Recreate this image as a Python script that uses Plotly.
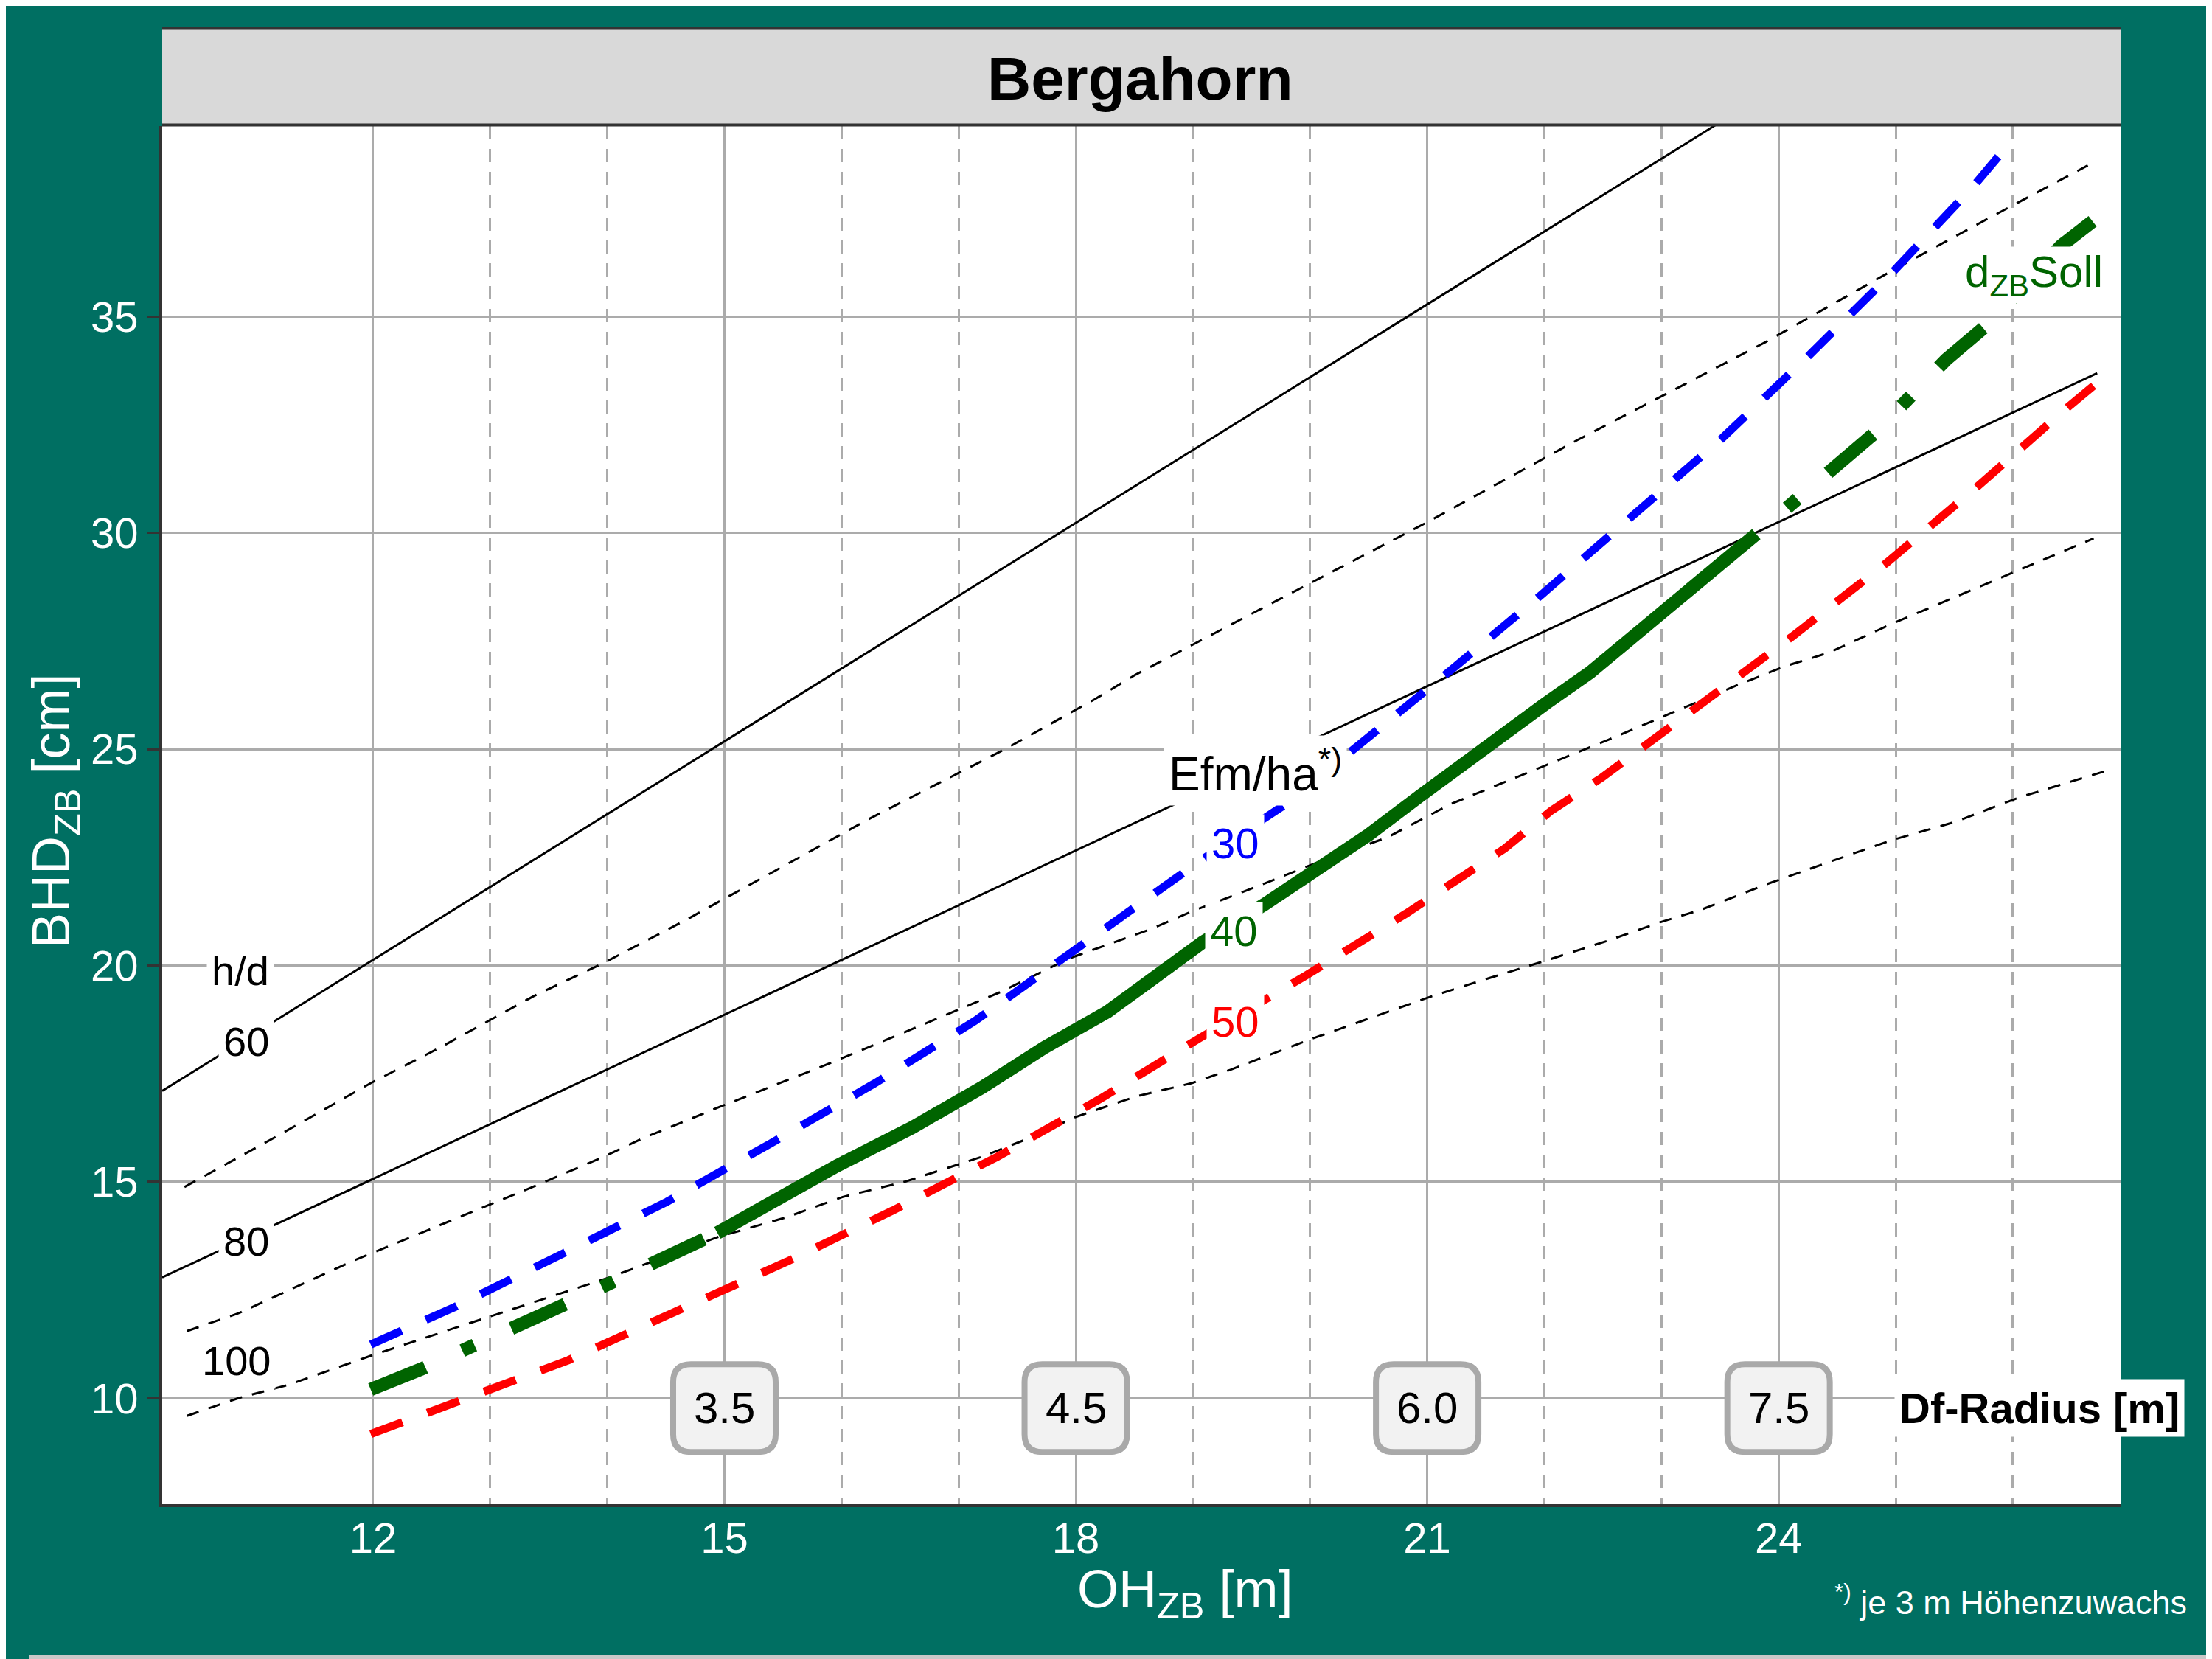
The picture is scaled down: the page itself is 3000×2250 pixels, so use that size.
import plotly.graph_objects as go

# ---------------- data ----------------
x_major_ticks = [12, 15, 18, 21, 24]
x_minor_grid = [13, 14, 16, 17, 19, 20, 22, 23, 25, 26]
y_ticks = [10, 15, 20, 25, 30, 35]

# h/d reference lines (solid black)
hd60_x = [10.2, 23.46]
hd60_y = [17.1, 39.42]
hd80_x = [10.2, 26.72]
hd80_y = [12.79, 33.69]

# thin black dashed lines
l1_x = [10.39, 11.17, 11.98, 12.57, 13.37, 13.97, 14.67, 16.01, 16.23, 17.41, 18.16, 18.51, 19.53,
        20.99, 22.28, 23.09, 23.89, 24.97, 25.78, 26.64]
l1_y = [14.88, 16.04, 17.28, 18.10, 19.29, 20.06, 21.05, 23.06, 23.38, 25.02, 26.15, 26.72, 28.17,
        30.23, 32.14, 33.28, 34.41, 36.06, 37.25, 38.49]
l2_x = [10.41, 10.85, 11.81, 12.41, 13.38, 13.97, 14.29, 14.94, 15.91, 16.55, 17.36, 17.95, 18.64,
        18.99, 19.59, 20.07, 20.66, 21.2, 22.55, 23.09, 23.63, 24.06, 24.43, 24.97, 25.51, 26.05, 26.69]
l2_y = [11.55, 11.96, 13.15, 13.82, 14.90, 15.58, 15.99, 16.71, 17.75, 18.47, 19.39, 20.17, 20.84,
        21.25, 21.87, 22.39, 22.96, 23.73, 25.22, 25.84, 26.46, 26.92, 27.23, 27.90, 28.52, 29.14, 29.87]
l3_x = [10.41, 10.85, 11.28, 11.98, 12.73, 13.43, 14.02, 14.94, 15.53, 16.01, 16.55, 17.20, 17.63,
        18.0, 18.51, 18.99, 19.32, 20.02, 20.66, 21.04, 21.52, 22.01, 22.55, 22.98, 23.35, 23.89,
        24.43, 24.97, 25.51, 26.05, 26.80]
l3_y = [9.59, 10.0, 10.31, 10.98, 11.65, 12.27, 12.79, 13.72, 14.18, 14.65, 15.01, 15.58, 16.04,
        16.5, 16.97, 17.28, 17.59, 18.31, 18.93, 19.29, 19.70, 20.11, 20.58, 20.99, 21.30, 21.87,
        22.39, 22.90, 23.32, 23.88, 24.5]

# Efm/ha = 30 (blue)
e30_x = [11.98, 12.70, 13.59, 14.51, 15.39, 16.28, 17.14, 17.95, 18.64, 19.08, 19.81, 20.58, 21.20,
         21.98, 22.76, 23.52, 24.26, 24.97, 25.67, 25.94]
e30_y = [11.24, 12.11, 13.30, 14.54, 15.88, 17.27, 18.72, 20.27, 21.61, 22.45, 23.76, 25.43, 26.82,
         28.58, 30.39, 32.19, 34.10, 36.01, 38.03, 38.90]
# Efm/ha = 50 (red)
e50_x = [11.98, 12.73, 13.67, 14.59, 15.53, 16.44, 17.33, 18.21, 18.64, 19.05, 19.96, 20.82, 21.66,
         22.06, 22.49, 23.32, 24.11, 24.92, 25.69, 26.45, 26.82]
e50_y = [9.17, 9.95, 10.88, 12.01, 13.15, 14.34, 15.58, 16.92, 17.64, 18.31, 19.76, 21.20, 22.70,
         23.58, 24.34, 26.0, 27.59, 29.30, 31.05, 32.86, 33.69]
# Efm/ha = 40 (green, d_ZB Soll)
e40a_x = [11.98, 12.41, 13.64, 14.75, 14.94]
e40a_y = [10.20, 10.67, 12.17, 13.61, 13.82]
e40b_x = [14.94, 15.47, 15.96, 16.60, 17.20, 17.73, 18.27, 18.64, 19.08, 19.61, 20.07, 20.50, 20.94,
          21.37, 21.69, 22.01, 22.39, 22.76, 22.98, 23.25, 23.57, 23.81]
e40b_y = [13.82, 14.65, 15.37, 16.25, 17.18, 18.10, 18.93, 19.66, 20.53, 21.41, 22.24, 23.02, 23.92,
          24.81, 25.43, 26.05, 26.77, 27.60, 28.11, 28.63, 29.35, 29.97]
e40c_x = [23.81, 24.47, 24.84, 25.43, 25.81, 26.41, 26.78]
e40c_y = [29.97, 31.52, 32.35, 34.0, 34.87, 36.63, 37.41]

# Df-Radius boxes
df_x = [15, 18, 21, 24]
df_y = [9.77, 9.77, 9.77, 9.77]
df_labels = ["3.5", "4.5", "6.0", "7.5"]

# h/d labels
hd_lab_text = ["h/d", "60", "80", "100"]
hd_lab_x = [10.87, 10.92, 10.92, 10.83]
hd_lab_y = [19.88, 18.25, 13.63, 10.87]

# Efm labels
efm_text = ["30", "40", "50"]
efm_x = [19.36, 19.35, 19.36]
efm_y = [22.83, 20.80, 18.71]

# ---------------- styling ----------------
TEAL = "#006F62"
GRID = "#ABABAB"
AXIS = "#333333"
FONT = "Liberation Sans, Arial, sans-serif"
BLUE = "#0000FF"
RED = "#FF0000"
GREEN = "#006400"

OFF = 8  # page body margin
W, H = 3000 - OFF, 2250 - OFF
ML, MT = 220 - OFF, 171 - OFF
MR = W - (2876 - OFF)
MB = H - (2040 - OFF)
PW, PH = W - ML - MR, H - MT - MB


def px_x(X):
    return (X - OFF - ML) / PW


def px_y(Y):
    return (H - MB - (Y - OFF)) / PH


fig = go.Figure()


def add_line(x, y, color, width, dash):
    fig.add_trace(go.Scatter(x=x, y=y, mode="lines",
                             line=dict(color=color, width=width, dash=dash),
                             hoverinfo="skip", showlegend=False))


thin_dash = "17px,14px"
add_line(l1_x, l1_y, "black", 3, thin_dash)
add_line(l2_x, l2_y, "black", 3, thin_dash)
add_line(l3_x, l3_y, "black", 3, thin_dash)
add_line(hd60_x, hd60_y, "black", 3, "solid")
add_line(hd80_x, hd80_y, "black", 3, "solid")
add_line(e50_x, e50_y, RED, 11, "46px,36px")
add_line(e30_x, e30_y, BLUE, 11, "46px,36px")
add_line(e40a_x, e40a_y, GREEN, 18, "80px,55px,18px,55px")
add_line(e40b_x, e40b_y, GREEN, 18, "solid")
add_line(e40c_x, e40c_y, GREEN, 18, "0px,55px,18px,55px,80px,0px")

shapes = []
# grey strip at the very bottom
shapes.append(dict(type="rect", xref="paper", yref="paper", x0=px_x(40), x1=px_x(3000),
                   y0=px_y(2250), y1=px_y(2245),
                   fillcolor="#C8C8C8", line=dict(width=0), layer="above"))
# title strip
shapes.append(dict(type="rect", xref="paper", yref="paper", x0=0, x1=1, y0=1.0, y1=px_y(38),
                   fillcolor="#D9D9D9", line=dict(width=0), layer="above"))
for Yl in (38.5, 169.5):
    shapes.append(dict(type="line", xref="paper", yref="paper", x0=0, x1=1, y0=px_y(Yl), y1=px_y(Yl),
                       line=dict(color=AXIS, width=4), layer="above"))

# rounded Df-Radius boxes (pixel sized, anchored at data points)
bw, bh, br = 69.5, 59.5, 24


def rounded_path(w, h, r):
    return (f"M {-w + r},{-h} L {w - r},{-h} Q {w},{-h} {w},{-h + r} L {w},{h - r} "
            f"Q {w},{h} {w - r},{h} L {-w + r},{h} Q {-w},{h} {-w},{h - r} "
            f"L {-w},{-h + r} Q {-w},{-h} {-w + r},{-h} Z")


for xv, yv in zip(df_x, df_y):
    shapes.append(dict(type="path", xref="x", yref="y", xsizemode="pixel", ysizemode="pixel",
                       xanchor=xv, yanchor=yv, path=rounded_path(bw, bh, br),
                       fillcolor="#F2F2F2", line=dict(color="#A9A9A9", width=8), layer="above"))

annotations = []
# title
annotations.append(dict(text="<b>Bergahorn</b>", xref="paper", yref="paper", x=px_x(1546), y=px_y(106),
                        showarrow=False, font=dict(family=FONT, size=82, color="black"),
                        xanchor="center", yanchor="middle"))
# axis titles
annotations.append(dict(text="OH<sub>ZB</sub> [m]", xref="paper", yref="paper", x=px_x(1607), y=px_y(2160),
                        showarrow=False, font=dict(family=FONT, size=72, color="white"),
                        xanchor="center", yanchor="middle"))
annotations.append(dict(text="BHD<sub>ZB</sub> [cm]", xref="paper", yref="paper", x=px_x(74), y=px_y(1100),
                        showarrow=False, textangle=-90, font=dict(family=FONT, size=72, color="white"),
                        xanchor="center", yanchor="middle"))
# footnote
annotations.append(dict(text="<sup>*)</sup> je 3 m Höhenzuwachs", xref="paper", yref="paper",
                        x=px_x(2968), y=px_y(2170), showarrow=False,
                        font=dict(family=FONT, size=45, color="white"), xanchor="right", yanchor="middle"))
# h/d labels
for t, xv, yv in zip(hd_lab_text, hd_lab_x, hd_lab_y):
    annotations.append(dict(text=t, x=xv, y=yv, xref="x", yref="y", showarrow=False,
                            font=dict(family=FONT, size=56, color="black"), bgcolor="white", borderpad=6))
# Efm/ha label
annotations.append(dict(text="Efm/ha<sup>*)</sup>", x=19.53, y=24.5, xref="x", yref="y", showarrow=False,
                        font=dict(family=FONT, size=64, color="black"), bgcolor="white", borderpad=6))
for t, xv, yv, c in zip(efm_text, efm_x, efm_y, [BLUE, GREEN, RED]):
    annotations.append(dict(text=t, x=xv, y=yv, xref="x", yref="y", showarrow=False,
                            font=dict(family=FONT, size=58, color=c), bgcolor="white", borderpad=6))
# d_ZB Soll label
annotations.append(dict(text="d<sub>ZB</sub>Soll", x=26.18, y=35.95, xref="x", yref="y", showarrow=False,
                        font=dict(family=FONT, size=60, color=GREEN), bgcolor="white", borderpad=0))
# Df-Radius values
for t, xv, yv in zip(df_labels, df_x, df_y):
    annotations.append(dict(text=t, x=xv, y=yv, xref="x", yref="y", showarrow=False,
                            font=dict(family=FONT, size=60, color="black")))
annotations.append(dict(text="<b>Df-Radius [m]</b>", x=26.23, y=9.77, xref="x", yref="y", showarrow=False,
                        font=dict(family=FONT, size=58, color="black"), bgcolor="white", borderpad=6))

fig.update_layout(
    width=W, height=H,
    margin=dict(l=ML, r=MR, t=MT, b=MB, autoexpand=False),
    paper_bgcolor=TEAL, plot_bgcolor="white",
    showlegend=False,
    shapes=shapes, annotations=annotations,
    font=dict(family=FONT),
    xaxis=dict(range=[10.2, 26.92], tickmode="array", tickvals=x_major_ticks,
               ticktext=[str(v) for v in x_major_ticks],
               showgrid=True, gridcolor=GRID, gridwidth=3, zeroline=False,
               ticks="", showline=True, linecolor=AXIS, linewidth=4,
               tickfont=dict(family=FONT, size=58, color="white"), ticklabelstandoff=-8,
               minor=dict(tickmode="array", tickvals=x_minor_grid, showgrid=True, gridcolor=GRID,
                          gridwidth=3, griddash="18px,13px", ticks="")),
    yaxis=dict(range=[7.55, 39.4], tickmode="array", tickvals=y_ticks,
               showgrid=True, gridcolor=GRID, gridwidth=3, zeroline=False,
               ticks="outside", ticklen=17, tickwidth=3, tickcolor=AXIS,
               showline=True, linecolor=AXIS, linewidth=4,
               tickfont=dict(family=FONT, size=58, color="white")),
)

fig.write_html("out.html")
